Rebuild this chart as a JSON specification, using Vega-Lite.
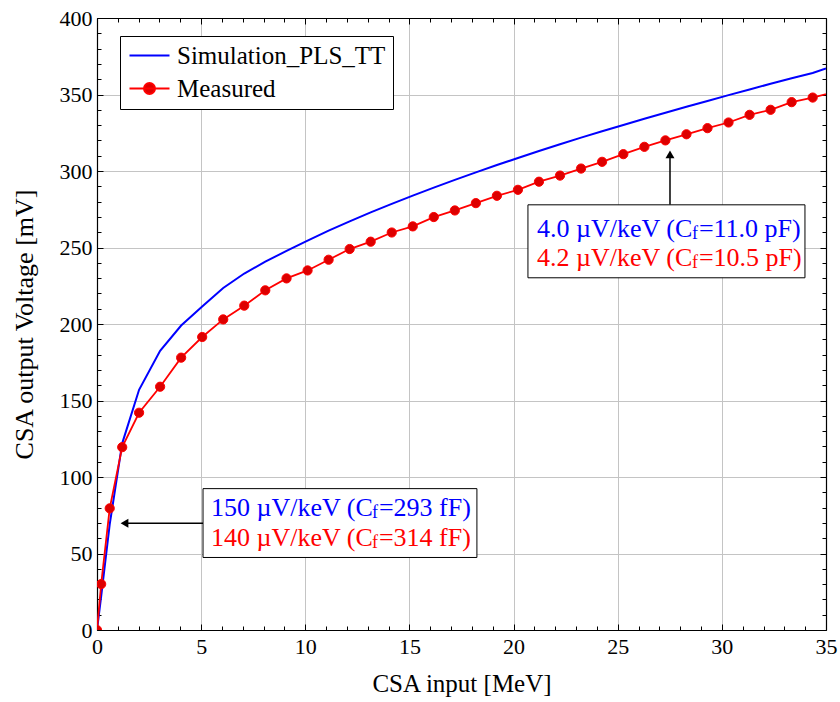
{
  "$schema": "https://vega.github.io/schema/vega-lite/v6.json",
  "width": 729,
  "height": 612,
  "autosize": {"type": "none"},
  "padding": {"left": 97, "top": 18, "right": 14, "bottom": 72},
  "background": "white",
  "config": {
    "font": "Liberation Serif",
    "text": {"font": "Liberation Serif"},
    "view": {"stroke": null},
    "axis": {
      "domainColor": "black",
      "domainWidth": 1.2,
      "tickColor": "black",
      "tickWidth": 1,
      "labelColor": "black",
      "titleColor": "black",
      "labelFont": "Liberation Serif",
      "titleFont": "Liberation Serif",
      "titleFontWeight": "normal",
      "gridColor": "#c4c4c4",
      "gridWidth": 1
    },
    "legend": {"labelFont": "Liberation Serif"}
  },
  "datasets": {
    "sim": [
      {"x": 0, "v": 0, "series": "Simulation_PLS_TT"},
      {"x": 0.2, "v": 22, "series": "Simulation_PLS_TT"},
      {"x": 0.61, "v": 69, "series": "Simulation_PLS_TT"},
      {"x": 1.21, "v": 122, "series": "Simulation_PLS_TT"},
      {"x": 2.02, "v": 157, "series": "Simulation_PLS_TT"},
      {"x": 3.03, "v": 182.5, "series": "Simulation_PLS_TT"},
      {"x": 4.04, "v": 199, "series": "Simulation_PLS_TT"},
      {"x": 5.05, "v": 211.5, "series": "Simulation_PLS_TT"},
      {"x": 6.06, "v": 223.5, "series": "Simulation_PLS_TT"},
      {"x": 7.07, "v": 233, "series": "Simulation_PLS_TT"},
      {"x": 8.08, "v": 240.7, "series": "Simulation_PLS_TT"},
      {"x": 9.1, "v": 247.8, "series": "Simulation_PLS_TT"},
      {"x": 10.11, "v": 254.5, "series": "Simulation_PLS_TT"},
      {"x": 11.12, "v": 261, "series": "Simulation_PLS_TT"},
      {"x": 12.13, "v": 267.1, "series": "Simulation_PLS_TT"},
      {"x": 13.14, "v": 273, "series": "Simulation_PLS_TT"},
      {"x": 14.15, "v": 278.5, "series": "Simulation_PLS_TT"},
      {"x": 15.16, "v": 283.9, "series": "Simulation_PLS_TT"},
      {"x": 16.17, "v": 289.1, "series": "Simulation_PLS_TT"},
      {"x": 17.18, "v": 294.2, "series": "Simulation_PLS_TT"},
      {"x": 18.19, "v": 299.1, "series": "Simulation_PLS_TT"},
      {"x": 19.2, "v": 303.9, "series": "Simulation_PLS_TT"},
      {"x": 20.21, "v": 308.5, "series": "Simulation_PLS_TT"},
      {"x": 21.22, "v": 313.1, "series": "Simulation_PLS_TT"},
      {"x": 22.23, "v": 317.5, "series": "Simulation_PLS_TT"},
      {"x": 23.24, "v": 321.8, "series": "Simulation_PLS_TT"},
      {"x": 24.25, "v": 326, "series": "Simulation_PLS_TT"},
      {"x": 25.27, "v": 330.1, "series": "Simulation_PLS_TT"},
      {"x": 26.28, "v": 334.1, "series": "Simulation_PLS_TT"},
      {"x": 27.29, "v": 338.1, "series": "Simulation_PLS_TT"},
      {"x": 28.3, "v": 342, "series": "Simulation_PLS_TT"},
      {"x": 29.31, "v": 345.8, "series": "Simulation_PLS_TT"},
      {"x": 30.32, "v": 349.6, "series": "Simulation_PLS_TT"},
      {"x": 31.33, "v": 353.3, "series": "Simulation_PLS_TT"},
      {"x": 32.34, "v": 357, "series": "Simulation_PLS_TT"},
      {"x": 33.35, "v": 360.6, "series": "Simulation_PLS_TT"},
      {"x": 34.36, "v": 364.1, "series": "Simulation_PLS_TT"},
      {"x": 35, "v": 367, "series": "Simulation_PLS_TT"}
    ],
    "meas": [
      {"x": 0, "v": 0, "series": "Measured"},
      {"x": 0.2, "v": 30, "series": "Measured"},
      {"x": 0.61, "v": 79.5, "series": "Measured"},
      {"x": 1.21, "v": 119.5, "series": "Measured"},
      {"x": 2.02, "v": 142, "series": "Measured"},
      {"x": 3.03, "v": 159, "series": "Measured"},
      {"x": 4.04, "v": 178, "series": "Measured"},
      {"x": 5.05, "v": 191.5, "series": "Measured"},
      {"x": 6.06, "v": 203, "series": "Measured"},
      {"x": 7.07, "v": 212, "series": "Measured"},
      {"x": 8.08, "v": 222, "series": "Measured"},
      {"x": 9.1, "v": 229.8, "series": "Measured"},
      {"x": 10.11, "v": 235, "series": "Measured"},
      {"x": 11.12, "v": 242, "series": "Measured"},
      {"x": 12.13, "v": 249, "series": "Measured"},
      {"x": 13.14, "v": 253.8, "series": "Measured"},
      {"x": 14.15, "v": 259.8, "series": "Measured"},
      {"x": 15.16, "v": 263.8, "series": "Measured"},
      {"x": 16.17, "v": 269.9, "series": "Measured"},
      {"x": 17.18, "v": 274.2, "series": "Measured"},
      {"x": 18.19, "v": 279, "series": "Measured"},
      {"x": 19.2, "v": 283.8, "series": "Measured"},
      {"x": 20.21, "v": 287.7, "series": "Measured"},
      {"x": 21.22, "v": 293, "series": "Measured"},
      {"x": 22.23, "v": 297, "series": "Measured"},
      {"x": 23.24, "v": 301.6, "series": "Measured"},
      {"x": 24.25, "v": 306, "series": "Measured"},
      {"x": 25.27, "v": 311, "series": "Measured"},
      {"x": 26.28, "v": 315.8, "series": "Measured"},
      {"x": 27.29, "v": 320, "series": "Measured"},
      {"x": 28.3, "v": 324, "series": "Measured"},
      {"x": 29.31, "v": 328, "series": "Measured"},
      {"x": 30.32, "v": 331.7, "series": "Measured"},
      {"x": 31.33, "v": 336.7, "series": "Measured"},
      {"x": 32.34, "v": 340, "series": "Measured"},
      {"x": 33.35, "v": 345, "series": "Measured"},
      {"x": 34.36, "v": 348, "series": "Measured"},
      {"x": 35.37, "v": 351.5, "series": "Measured"}
    ]
  },
  "resolve": {"axis": {"x": "independent", "y": "independent"}},
  "layer": [
    {
      "data": {"name": "sim"},
      "mark": {"type": "line", "strokeWidth": 2, "clip": true},
      "encoding": {
        "x": {"field": "x", "type": "quantitative", "scale": {"domain": [0, 35], "nice": false, "zero": false},
          "axis": {"orient": "bottom", "values": [0, 5, 10, 15, 20, 25, 30, 35], "grid": true, "ticks": false, "labelFont": "Liberation Serif", "titleFont": "Liberation Serif", "labelFontSize": 22, "labelPadding": 6, "labelFlush": false, "title": "CSA input [MeV]", "titleFontSize": 25, "titlePadding": 14,
            "encode": {"labels": {"update": {"font": {"value": "Liberation Serif"}}}, "title": {"update": {"font": {"value": "Liberation Serif"}}}}}},
        "y": {"field": "v", "type": "quantitative", "scale": {"domain": [0, 400], "nice": false, "zero": false},
          "axis": {"orient": "left", "values": [0, 50, 100, 150, 200, 250, 300, 350, 400], "grid": true, "ticks": false, "labelFont": "Liberation Serif", "titleFont": "Liberation Serif", "labelFontSize": 22, "labelPadding": 5, "labelFlush": false, "title": "CSA output Voltage [mV]", "titleFontSize": 26, "titlePadding": 22,
            "encode": {"labels": {"update": {"font": {"value": "Liberation Serif"}}}, "title": {"update": {"font": {"value": "Liberation Serif"}}}}}},
        "color": {"field": "series", "type": "nominal",
          "scale": {"domain": ["Simulation_PLS_TT", "Measured"], "range": ["#0000ff", "#ff0000"]},
          "legend": {"orient": "none", "legendX": 23, "legendY": 18, "title": null, "direction": "vertical",
            "labelFont": "Liberation Serif", "labelFontSize": 25, "labelColor": "black", "labelLimit": 400,
            "strokeColor": "black", "fillColor": "white", "padding": 7, "rowPadding": 7, "labelOffset": 25,
            "symbolType": "stroke", "symbolSize": 400, "symbolStrokeWidth": 2,
            "encode": {
              "labels": {"update": {"font": {"value": "Liberation Serif"}}},
              "symbols": {"update": {
                "shape": {"signal": "datum.label === 'Measured' ? 'M-1,0H3M0.45,0A0.55,0.55 0 1,0 1.55,0A0.55,0.55 0 1,0 0.45,0Z' : 'M-1,0H3'"},
                "fill": {"signal": "datum.label === 'Measured' ? '#dd0000' : 'transparent'"}
              }}
            }
          }}
      }
    },
    {
      "data": {"name": "meas"},
      "mark": {"type": "line", "strokeWidth": 1.8, "clip": true},
      "encoding": {
        "x": {"field": "x", "type": "quantitative", "scale": {"domain": [0, 35], "nice": false, "zero": false},
          "axis": {"orient": "bottom", "values": [1, 2, 3, 4, 6, 7, 8, 9, 11, 12, 13, 14, 16, 17, 18, 19, 21, 22, 23, 24, 26, 27, 28, 29, 31, 32, 33, 34], "labels": false, "domain": false, "grid": false, "tickSize": -4, "title": null}},
        "y": {"field": "v", "type": "quantitative", "scale": {"domain": [0, 400], "nice": false, "zero": false},
          "axis": {"orient": "left", "values": [10, 20, 30, 40, 60, 70, 80, 90, 110, 120, 130, 140, 160, 170, 180, 190, 210, 220, 230, 240, 260, 270, 280, 290, 310, 320, 330, 340, 360, 370, 380, 390], "labels": false, "domain": false, "grid": false, "tickSize": -4, "title": null}},
        "color": {"field": "series", "type": "nominal"}
      }
    },
    {
      "data": {"name": "meas"},
      "mark": {"type": "point", "filled": true, "fill": "#dd0000", "stroke": "#ff0000", "strokeWidth": 1, "size": 85, "opacity": 1, "clip": true},
      "encoding": {
        "x": {"field": "x", "type": "quantitative", "scale": {"domain": [0, 35], "nice": false, "zero": false},
          "axis": {"orient": "bottom", "values": [0, 5, 10, 15, 20, 25, 30, 35], "labels": false, "domain": false, "grid": false, "tickSize": -6, "title": null}},
        "y": {"field": "v", "type": "quantitative", "scale": {"domain": [0, 400], "nice": false, "zero": false},
          "axis": {"orient": "left", "values": [0, 50, 100, 150, 200, 250, 300, 350, 400], "labels": false, "domain": false, "grid": false, "tickSize": -6, "title": null}}
      }
    },
    {
      "data": {"values": [{}]},
      "mark": {"type": "rule", "stroke": "black", "strokeWidth": 1.5},
      "encoding": {
        "x": {"datum": 27.51, "type": "quantitative", "scale": {"domain": [0, 35], "nice": false, "zero": false},
          "axis": {"orient": "top", "values": [1, 2, 3, 4, 6, 7, 8, 9, 11, 12, 13, 14, 16, 17, 18, 19, 21, 22, 23, 24, 26, 27, 28, 29, 31, 32, 33, 34], "labels": false, "domain": false, "grid": false, "tickSize": -4, "title": null}},
        "y": {"datum": 277.9, "type": "quantitative", "scale": {"domain": [0, 400], "nice": false, "zero": false},
          "axis": {"orient": "right", "values": [10, 20, 30, 40, 60, 70, 80, 90, 110, 120, 130, 140, 160, 170, 180, 190, 210, 220, 230, 240, 260, 270, 280, 290, 310, 320, 330, 340, 360, 370, 380, 390], "labels": false, "domain": false, "grid": false, "tickSize": -4, "title": null}},
        "y2": {"datum": 310}
      }
    },
    {
      "data": {"values": [{}]},
      "mark": {"type": "rule", "stroke": "black", "strokeWidth": 1.5},
      "encoding": {
        "x": {"datum": 5.09, "type": "quantitative", "scale": {"domain": [0, 35], "nice": false, "zero": false},
          "axis": {"orient": "top", "values": [0, 5, 10, 15, 20, 25, 30, 35], "labels": false, "domain": true, "grid": false, "tickSize": -6, "title": null}},
        "x2": {"datum": 1.3},
        "y": {"datum": 69.8, "type": "quantitative", "scale": {"domain": [0, 400], "nice": false, "zero": false},
          "axis": {"orient": "right", "values": [0, 50, 100, 150, 200, 250, 300, 350, 400], "labels": false, "domain": true, "grid": false, "tickSize": -6, "title": null}}
      }
    },
    {
      "data": {"values": [{}]},
      "mark": {"type": "point", "shape": "triangle-up", "filled": true, "fill": "black", "size": 80, "opacity": 1},
      "encoding": {
        "x": {"datum": 27.51, "type": "quantitative", "axis": null},
        "y": {"datum": 310.9, "type": "quantitative", "axis": null}
      }
    },
    {
      "data": {"values": [{}]},
      "mark": {"type": "point", "shape": "triangle-left", "filled": true, "fill": "black", "size": 80, "opacity": 1},
      "encoding": {
        "x": {"datum": 1.32, "type": "quantitative", "axis": null},
        "y": {"datum": 69.8, "type": "quantitative", "axis": null}
      }
    },
    {
      "data": {"values": [{}]},
      "mark": {"type": "rect", "fill": "white", "stroke": "black", "strokeWidth": 1},
      "encoding": {
        "x": {"datum": 20.69, "type": "quantitative", "axis": null},
        "x2": {"datum": 33.99},
        "y": {"datum": 277.9, "type": "quantitative", "axis": null},
        "y2": {"datum": 230.2}
      }
    },
    {
      "data": {"values": [{}]},
      "mark": {"type": "rect", "fill": "white", "stroke": "black", "strokeWidth": 1},
      "encoding": {
        "x": {"datum": 5.09, "type": "quantitative", "axis": null},
        "x2": {"datum": 18.24},
        "y": {"datum": 92.4, "type": "quantitative", "axis": null},
        "y2": {"datum": 47.4}
      }
    },
    {"data": {"values": [{}]}, "mark": {"type": "text", "text": "4.0 µV/keV (C", "align": "left", "baseline": "middle", "fontSize": 26, "color": "#0000ff"},
     "encoding": {"x": {"datum": 21.12, "type": "quantitative", "axis": null}, "y": {"datum": 262, "type": "quantitative", "axis": null}}},
    {"data": {"values": [{}]}, "mark": {"type": "text", "text": "f", "align": "left", "baseline": "middle", "fontSize": 18, "dx": 155, "dy": 5, "color": "#0000ff"},
     "encoding": {"x": {"datum": 21.12, "type": "quantitative", "axis": null}, "y": {"datum": 262, "type": "quantitative", "axis": null}}},
    {"data": {"values": [{}]}, "mark": {"type": "text", "text": "=11.0 pF)", "align": "left", "baseline": "middle", "fontSize": 26, "dx": 162, "color": "#0000ff"},
     "encoding": {"x": {"datum": 21.12, "type": "quantitative", "axis": null}, "y": {"datum": 262, "type": "quantitative", "axis": null}}},
    {"data": {"values": [{}]}, "mark": {"type": "text", "text": "4.2 µV/keV (C", "align": "left", "baseline": "middle", "fontSize": 26, "color": "#ff0000"},
     "encoding": {"x": {"datum": 21.12, "type": "quantitative", "axis": null}, "y": {"datum": 243.1, "type": "quantitative", "axis": null}}},
    {"data": {"values": [{}]}, "mark": {"type": "text", "text": "f", "align": "left", "baseline": "middle", "fontSize": 18, "dx": 155, "dy": 5, "color": "#ff0000"},
     "encoding": {"x": {"datum": 21.12, "type": "quantitative", "axis": null}, "y": {"datum": 243.1, "type": "quantitative", "axis": null}}},
    {"data": {"values": [{}]}, "mark": {"type": "text", "text": "=10.5 pF)", "align": "left", "baseline": "middle", "fontSize": 26, "dx": 162, "color": "#ff0000"},
     "encoding": {"x": {"datum": 21.12, "type": "quantitative", "axis": null}, "y": {"datum": 243.1, "type": "quantitative", "axis": null}}},
    {"data": {"values": [{}]}, "mark": {"type": "text", "text": "150 µV/keV (C", "align": "left", "baseline": "middle", "fontSize": 26, "color": "#0000ff"},
     "encoding": {"x": {"datum": 5.47, "type": "quantitative", "axis": null}, "y": {"datum": 80, "type": "quantitative", "axis": null}}},
    {"data": {"values": [{}]}, "mark": {"type": "text", "text": "f", "align": "left", "baseline": "middle", "fontSize": 18, "dx": 161, "dy": 5, "color": "#0000ff"},
     "encoding": {"x": {"datum": 5.47, "type": "quantitative", "axis": null}, "y": {"datum": 80, "type": "quantitative", "axis": null}}},
    {"data": {"values": [{}]}, "mark": {"type": "text", "text": "=293 fF)", "align": "left", "baseline": "middle", "fontSize": 26, "dx": 168, "color": "#0000ff"},
     "encoding": {"x": {"datum": 5.47, "type": "quantitative", "axis": null}, "y": {"datum": 80, "type": "quantitative", "axis": null}}},
    {"data": {"values": [{}]}, "mark": {"type": "text", "text": "140 µV/keV (C", "align": "left", "baseline": "middle", "fontSize": 26, "color": "#ff0000"},
     "encoding": {"x": {"datum": 5.47, "type": "quantitative", "axis": null}, "y": {"datum": 60.4, "type": "quantitative", "axis": null}}},
    {"data": {"values": [{}]}, "mark": {"type": "text", "text": "f", "align": "left", "baseline": "middle", "fontSize": 18, "dx": 161, "dy": 5, "color": "#ff0000"},
     "encoding": {"x": {"datum": 5.47, "type": "quantitative", "axis": null}, "y": {"datum": 60.4, "type": "quantitative", "axis": null}}},
    {"data": {"values": [{}]}, "mark": {"type": "text", "text": "=314 fF)", "align": "left", "baseline": "middle", "fontSize": 26, "dx": 168, "color": "#ff0000"},
     "encoding": {"x": {"datum": 5.47, "type": "quantitative", "axis": null}, "y": {"datum": 60.4, "type": "quantitative", "axis": null}}}
  ]
}
